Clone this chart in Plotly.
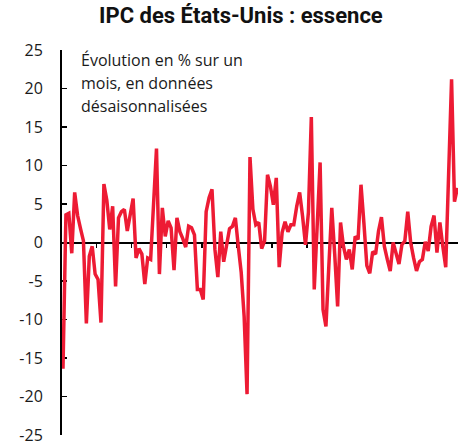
import plotly.graph_objects as go

# Monthly % change, seasonally adjusted
values = [
    -16.4, 3.6, 3.8, -1.4, 6.5, 3.5, 1.8, 0.2, -10.5, -1.8,
    -0.5, -4.1, -4.8, -10.4, 7.6, 5.5, 1.7, 4.7, -5.7, 3.2,
    4.0, 4.3, 1.5, 3.5, 5.7, -2.0, -0.8, -1.5, -5.4, -2.0,
    -2.2, 5.0, 12.2, -4.1, 4.5, 0.8, 2.8, 1.9, -3.6, 3.2,
    1.4, 0.5, -0.6, 2.1, 1.9, 1.0, -6.1, -6.1, -7.4, 4.0,
    5.8, 6.9, -0.9, -4.5, 1.4, -2.5, -0.5, 1.8, 2.1, 3.2,
    -0.5, -3.9, -9.6, -19.7, 11.1, 4.3, 2.3, 2.6, -0.8, 0.2,
    8.8, 7.3, 4.9, 8.4, -3.2, 1.3, 2.7, 1.4, 2.3, 2.3,
    4.7, 6.5, 3.4, -0.3, 3.9, 16.3, -6.1, 2.0, 10.4, -8.7,
    -10.9, -3.0, 4.5, -1.5, -8.3, 2.6, -0.5, -2.2, -0.9, -3.5,
    0.8, 0.4, 7.5, 2.5, -3.0, -4.0, -1.2, -1.5, 1.5, 3.3,
    -0.5, -2.2, -3.7, 0.0, -1.5, -2.8, -0.3, 0.2, 4.0, 0.0,
    -2.0, -3.7, -2.5, -2.2, 0.1, -1.1, 2.1, 3.5, -1.3, 2.6,
    -0.5, -3.2, 9.0, 21.2, 5.3, 7.1,
]
months = list(range(len(values)))

# year boundaries on the time axis (ticks without labels)
year_bounds = [11.5, 23.5, 35.5, 47.5, 59.5, 71.5, 83.5, 95.5, 107.5, 119.5, 131.5]

y_tickvals = [25, 20, 15, 10, 5, 0, -5, -10, -15, -20, -25]
y_ticktext = ["25", "20", "15", "10", "5", "0", "-5", "-10", "-15", "-20", "-25"]

title_text = "IPC des États-Unis : essence"
note_lines = ["Évolution en % sur un", "mois, en données", "désaisonnalisées"]

RED = "#ED1B34"
FONT = "Open Sans, Noto Sans, sans-serif"

fig = go.Figure()
fig.add_trace(go.Scatter(
    x=months, y=values, mode="lines",
    line=dict(color=RED, width=3.5),
    hoverinfo="skip", showlegend=False, cliponaxis=False,
))

fig.update_layout(
    width=458, height=446,
    margin=dict(l=62, r=0, t=50, b=11, autoexpand=False),
    paper_bgcolor="white", plot_bgcolor="white",
    font=dict(family=FONT, size=16, color="#1a1a1a"),
    title=dict(
        text="<b>" + title_text + "</b>",
        x=0.526, xref="container", xanchor="center",
        y=0.965, yref="container", yanchor="middle",
        font=dict(family="Liberation Sans Narrow, Roboto, sans-serif", size=22, color="#111111"),
        automargin=False,
    ),
    xaxis=dict(
        range=[-0.34, 135.2], automargin=False,
        anchor="free", position=0.5,
        showline=True, linecolor="black", linewidth=2,
        ticks="outside", ticklen=4, tickwidth=1.5, tickcolor="black",
        tickmode="array", tickvals=year_bounds,
        showticklabels=False, showgrid=False, zeroline=False,
        layer="below traces",
    ),
    yaxis=dict(
        range=[-25, 25], automargin=False,
        showline=True, linecolor="black", linewidth=2,
        ticks="inside", ticklen=5, tickwidth=1.5, tickcolor="black",
        tickmode="array", tickvals=y_tickvals, ticktext=y_ticktext,
        ticklabelstandoff=14, ticklabeloverflow="allow",
        tickfont=dict(family=FONT, size=16, color="#1a1a1a"),
        showgrid=False, zeroline=False,
        layer="below traces",
    ),
)

for k, line in enumerate(note_lines):
    fig.add_annotation(
        text=line, xref="paper", yref="paper",
        x=0.043, y=1.0 - k * 0.06, xanchor="left", yanchor="middle",
        yshift=-10,
        showarrow=False, align="left",
        font=dict(family=FONT, size=16, color="#1a1a1a"),
    )

fig.write_html("out.html", config={"displayModeBar": False, "staticPlot": True})

# remove the default page margin so the figure sits at the window origin
with open("out.html", "r", encoding="utf-8") as f:
    html = f.read()
html = html.replace("<head>", "<head><style>html,body{margin:0;padding:0;overflow:hidden;}</style>", 1)
with open("out.html", "w", encoding="utf-8") as f:
    f.write(html)
